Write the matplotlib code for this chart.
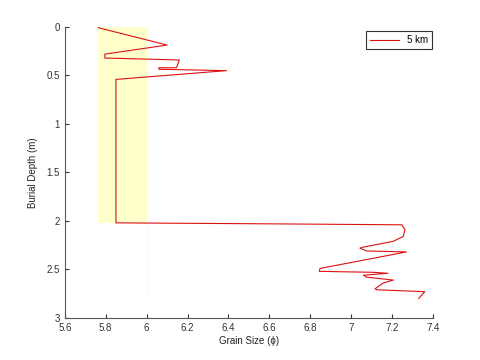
import numpy as np
import matplotlib
matplotlib.use('Agg')
import matplotlib.pyplot as plt

# grain size (phi) vs burial depth (m)
grain = [5.763, 6.10, 5.796, 5.796, 6.16, 6.146, 6.06, 6.06, 6.39, 5.853, 5.85,
         5.85, 6.595, 7.247, 7.263, 7.255, 7.206, 7.06, 7.043, 7.076, 7.27,
         6.848, 6.844, 7.108, 7.18, 7.06, 7.076, 7.206, 7.157, 7.117, 7.125,
         7.36, 7.33]
depth = [0.007, 0.186, 0.28, 0.32, 0.34, 0.42, 0.42, 0.436, 0.45, 0.54, 0.54,
         2.02, 2.03, 2.04, 2.09, 2.16, 2.21, 2.27, 2.28, 2.31, 2.32,
         2.49, 2.52, 2.53, 2.54, 2.56, 2.58, 2.61, 2.64, 2.70, 2.71,
         2.73, 2.80]

plt.rcParams['font.family'] = ['Liberation Sans', 'DejaVu Sans']
plt.rcParams['font.size'] = 7

fig = plt.figure(figsize=(4.8, 3.6), dpi=100)
ax = fig.add_axes([0.135, 0.117, 0.767, 0.808])

# shaded band
ax.fill_betweenx([0, 2.02], 5.76, 6.0, color='#ffffcc', lw=0, zorder=1)
ax.plot([6.0, 6.0], [2.02, 2.75], color='#ffffdd', lw=1, zorder=1)

ax.plot(grain, depth, color='#dd1111', lw=0.8, label='5 km', zorder=3)

ax.set_xlim(5.6, 7.4)
ax.set_ylim(3, 0)
ax.set_xticks(np.arange(5.6, 7.41, 0.2))
ax.set_xticklabels(['5.6', '5.8', '6', '6.2', '6.4', '6.6', '6.8', '7', '7.2', '7.4'])
ax.set_yticks([0, 0.5, 1, 1.5, 2, 2.5, 3])
ax.set_yticklabels(['0', '0.5', '1', '1.5', '2', '2.5', '3'])
ax.tick_params(direction='in', length=3, colors='#333333')
ax.spines['top'].set_visible(False)
ax.spines['right'].set_visible(False)
ax.spines['left'].set_color('#555555')
ax.spines['bottom'].set_color('#555555')

ax.set_xlabel('Grain Size (ϕ)', color='#222222', labelpad=2)
ax.set_ylabel('Burial Depth (m)', color='#222222', labelpad=6)

leg = ax.legend(loc='upper right', bbox_to_anchor=(0.997, 0.985), borderaxespad=0,
                fancybox=False, handlelength=3, borderpad=0.4, framealpha=1)
leg.get_frame().set_edgecolor('#333333')
leg.get_frame().set_linewidth(0.8)

fig.savefig('out.png', dpi=100)
